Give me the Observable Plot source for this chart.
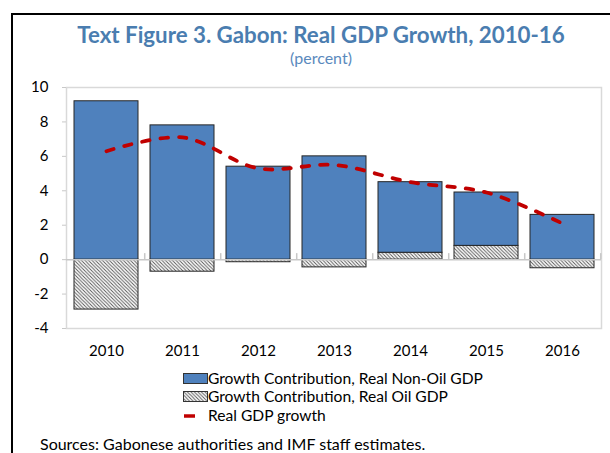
<!DOCTYPE html>
<html>
<head>
<meta charset="utf-8">
<script src="https://cdn.jsdelivr.net/npm/d3@7"></script>
<script src="https://cdn.jsdelivr.net/npm/@observablehq/plot@0.6"></script>
<style>
  html, body { margin: 0; padding: 0; background: #fff; }
  body { position: relative; width: 610px; height: 453px; overflow: hidden; font-family: Lato, "Open Sans", sans-serif; color: #000; }
  .frame { position: absolute; left: 11px; top: 13px; width: 640px; height: 500px; border-left: 2px solid #000; border-top: 2px solid #000; }
  .title { position: absolute; left: 11px; width: 620px; top: 21px; text-align: center; font-weight: bold; font-size: 22.3px; color: #4a7db0; }
  .subtitle { position: absolute; left: 11px; width: 620px; top: 48px; text-align: center; font-size: 16px; color: #5a89bd; }
  #chart { position: absolute; left: 0; top: 60px; }
  .leg { position: absolute; font-size: 15.6px; line-height: 18px; white-space: nowrap; }
  .src { position: absolute; left: 40px; top: 436px; font-size: 16px; line-height: 16px; white-space: nowrap; }
</style>
</head>
<body>
<div class="frame"></div>
<div class="title">Text Figure 3. Gabon: Real GDP Growth, 2010-16</div>
<div class="subtitle">(percent)</div>
<div id="chart"></div>
<div class="leg" style="left:183px; top:369px;">
  <svg width="25" height="12" style="vertical-align:-1px"><rect x="0.5" y="0.5" width="24" height="10" fill="#4f81bd" stroke="#333"/></svg><span>Growth Contribution, Real Non-Oil GDP</span>
</div>
<div class="leg" style="left:183px; top:387px;">
  <svg width="25" height="12" style="vertical-align:-1px"><defs><pattern id="hatchL" patternUnits="userSpaceOnUse" width="3.5" height="3.5"><rect width="3.5" height="3.5" fill="#fff"/><path d="M-1,-1L4.5,4.5M2.5,-1L4.5,1M-1,2.5L1,4.5" stroke="#555" stroke-width="0.9"/></pattern></defs><rect x="0.5" y="0.5" width="24" height="10" fill="url(#hatchL)" stroke="#333"/></svg><span>Growth Contribution, Real Oil GDP</span>
</div>
<div class="leg" style="left:183px; top:406px;">
  <svg width="25" height="12" style="vertical-align:-1px"><line x1="1" x2="12" y1="6" y2="6" stroke="#c00000" stroke-width="3.5"/></svg><span>Real GDP growth</span>
</div>
<div class="src">Sources: Gabonese authorities and IMF staff estimates.</div>
<script>
const years = ["2010", "2011", "2012", "2013", "2014", "2015", "2016"];
const nonOil = [9.2, 7.8, 5.4, 6.0, 4.1, 3.1, 2.6];
const oil = [-2.9, -0.7, -0.15, -0.45, 0.4, 0.8, -0.5];
const gdpGrowth = [6.3, 7.1, 5.3, 5.5, 4.5, 3.9, 2.1];
const yTicks = [-4, -2, 0, 2, 4, 6, 8, 10];
const seriesNames = ["Growth Contribution, Real Oil GDP", "Growth Contribution, Real Non-Oil GDP"];

const rows = [];
years.forEach((y, i) => {
  rows.push({year: y, series: seriesNames[0], value: oil[i]});
  rows.push({year: y, series: seriesNames[1], value: nonOil[i]});
});
const lineRows = years.map((y, i) => ({year: y, value: gdpGrowth[i]}));

const W = 610, H = 300, mL = 66, mR = 9;
const step = (W - mL - mR) / years.length;

const chart = Plot.plot({
  width: W,
  height: H,
  marginTop: 27,
  marginBottom: 32,
  marginLeft: mL,
  marginRight: mR,
  style: {fontFamily: "Lato, 'Open Sans', sans-serif", fontSize: "15px", color: "#000", background: "transparent"},
  x: {domain: years, paddingInner: 0.16, paddingOuter: 0.08, label: null},
  y: {domain: [-4, 10], label: null},
  color: {domain: seriesNames, range: ["url(#hatch)", "#4f81bd"]},
  marks: [
    Plot.frame({stroke: "#d9d9d9", strokeWidth: 1.5}),
    Plot.barY(rows, {x: "year", y: "value", fill: "series", stroke: "#262626", strokeWidth: 1}),
    Plot.ruleY([0], {stroke: "#c8c8c8", strokeWidth: 1.5}),
    Plot.ruleX(years, {x: d => d, y1: 0, y2: 0.35, dx: step / 2, stroke: "#c8c8c8", strokeWidth: 1.5}),
    Plot.line(lineRows, {x: "year", y: "value", curve: "catmull-rom", stroke: "#c00000", strokeWidth: 3.8, strokeDasharray: "7.5,11", strokeLinecap: "round"}),
    Plot.axisY({ticks: yTicks, tickSize: 4, tickPadding: 14, stroke: "#c8c8c8", fill: "#000", tickFormat: d => d < 0 ? "-" + Math.abs(d) : String(d)}),
    Plot.axisX({tickSize: 0, tickPadding: 17, fill: "#000"})
  ]
});

const svg = d3.select(chart);
const defs = svg.insert("defs", ":first-child");
const pat = defs.append("pattern").attr("id", "hatch").attr("patternUnits", "userSpaceOnUse").attr("width", 3.5).attr("height", 3.5);
pat.append("rect").attr("width", 3.5).attr("height", 3.5).attr("fill", "#fff");
pat.append("path").attr("d", "M-1,-1L4.5,4.5M2.5,-1L4.5,1M-1,2.5L1,4.5").attr("stroke", "#555").attr("stroke-width", 0.9);

document.getElementById("chart").appendChild(chart);
</script>
</body>
</html>
